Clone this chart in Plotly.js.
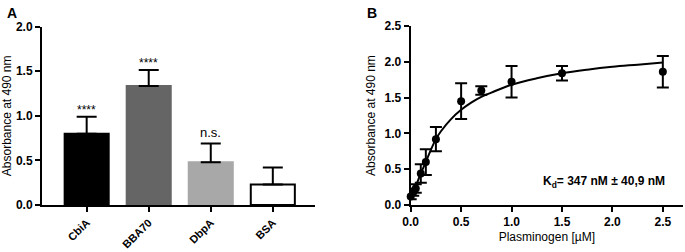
<!DOCTYPE html>
<html><head><meta charset="utf-8">
<script src="https://cdn.plot.ly/plotly-3.0.1.min.js"></script>
<style>html,body{margin:0;padding:0;background:#fff}#c{width:685px;height:252px}</style>
</head><body><div id="c"></div>
<script>
// Panel A
const categories = ['CbiA', 'BBA70', 'DbpA', 'BSA'];
const barValues = [0.80, 1.335, 0.48, 0.23];
const barErrors = [0.19, 0.18, 0.21, 0.19];
const barColors = ['#000000', '#656565', '#a8a8a8', '#ffffff'];
const barEdge = ['#000000', '#656565', '#a8a8a8', '#000000'];
const sigLabels = ['****', '****', 'n.s.', ''];
// Panel B
const plgConc = [0, 0.025, 0.05, 0.1, 0.15, 0.25, 0.5, 0.7, 1.0, 1.5, 2.5];
const plgAbs = [0.12, 0.18, 0.23, 0.44, 0.60, 0.92, 1.45, 1.60, 1.72, 1.84, 1.86];
const plgErr = [0.04, 0.05, 0.06, 0.13, 0.18, 0.17, 0.25, 0.06, 0.22, 0.10, 0.22];
const fitX = [0, 0.025, 0.05, 0.1, 0.15, 0.2, 0.25, 0.3, 0.4, 0.5, 0.6, 0.7, 0.8, 1.0, 1.25, 1.5, 1.75, 2.0, 2.25, 2.5];
const fitY = [0.10, 0.17, 0.26, 0.44, 0.60, 0.77, 0.92, 1.03, 1.20, 1.33, 1.43, 1.51, 1.57, 1.68, 1.77, 1.84, 1.89, 1.93, 1.96, 1.99];
const yTickVals = [0, 0.5, 1.0, 1.5, 2.0, 2.5];
const yTickText = ['0.0', '0.5', '1.0', '1.5', '2.0', '2.5'];
const xTickValsB = [0, 0.5, 1.0, 1.5, 2.0, 2.5];
const xTickTextB = ['0.0', '0.5', '1.0', '1.5', '2.0', '2.5'];
const yTitle = 'Absorbance at 490 nm';
const xTitleB = 'Plasminogen [µM]';
const kdText = 'K<sub>d</sub>= 347 nM ± 40,9 nM';

const FONT = 'Arial, "Liberation Sans", sans-serif';
const tickFont = {family: FONT, size: 12, color: '#000', weight: 'bold'};
const titleFont = {family: FONT, size: 12, color: '#000'};

const traces = [
  {
    type: 'bar', x: categories, y: barValues, xaxis: 'x', yaxis: 'y',
    width: 0.71,
    marker: {color: barColors, line: {color: barEdge, width: 2}},
    error_y: {type: 'data', symmetric: false, array: barErrors, arrayminus: [0,0,0,0],
              color: '#000', thickness: 2, width: 10},
    hoverinfo: 'none', showlegend: false
  },
  {
    type: 'scatter', mode: 'lines', x: fitX, y: fitY, xaxis: 'x2', yaxis: 'y2',
    line: {color: '#000', width: 2, shape: 'spline'}, showlegend: false, hoverinfo: 'none'
  },
  {
    type: 'scatter', mode: 'markers', x: plgConc, y: plgAbs, xaxis: 'x2', yaxis: 'y2',
    marker: {color: '#000', size: 8},
    error_y: {type: 'data', array: plgErr, color: '#000', thickness: 2, width: 6},
    cliponaxis: false, showlegend: false, hoverinfo: 'none'
  }
];

const annotations = [
  {xref: 'paper', yref: 'paper', x: 12/685, y: 1 - 3/252, xanchor: 'center', yanchor: 'top',
   text: '<b>A</b>', showarrow: false, font: {family: FONT, size: 14, color: '#000'}},
  {xref: 'paper', yref: 'paper', x: 372/685, y: 1 - 3/252, xanchor: 'center', yanchor: 'top',
   text: '<b>B</b>', showarrow: false, font: {family: FONT, size: 14, color: '#000'}},
  {xref: 'x2', yref: 'y2', x: 1.92, y: 0.32, xanchor: 'center', yanchor: 'middle',
   text: '<b>' + kdText + '</b>', showarrow: false, font: {family: FONT, size: 12, color: '#000'}}
];
categories.forEach((c, i) => {
  if (sigLabels[i]) {
    const isStar = sigLabels[i].indexOf('*') >= 0;
    annotations.push({
      xref: 'x', yref: 'y', x: c, y: barValues[i] + barErrors[i],
      xanchor: 'center', yanchor: 'bottom', yshift: isStar ? -2 : 1,
      text: sigLabels[i], showarrow: false,
      font: {family: FONT, size: isStar ? 12 : 13, color: '#000'}
    });
  }
});

const axCommon = {
  showline: true, linecolor: '#000', linewidth: 2, ticks: 'outside', ticklen: 5,
  tickwidth: 2, tickcolor: '#000', showgrid: false, zeroline: false, tickfont: tickFont,
  fixedrange: true
};

const layout = {
  width: 685, height: 252,
  margin: {l: 0, r: 0, t: 0, b: 0},
  paper_bgcolor: '#fff', plot_bgcolor: '#fff',
  bargap: 0.29,
  xaxis: Object.assign({}, axCommon, {
    domain: [42/685, 315/685], range: [-0.72, 3.68], type: 'category',
    tickangle: -45, anchor: 'y',
    tickfont: {family: FONT, size: 11, color: '#000', weight: 'bold'}
  }),
  yaxis: Object.assign({}, axCommon, {
    domain: [(252-205)/252, (252-26.7)/252], range: [0, 2.0],
    tickvals: yTickVals.slice(0, 5), ticktext: yTickText.slice(0, 5), anchor: 'x',
    title: {text: yTitle, font: titleFont, standoff: 6}
  }),
  xaxis2: Object.assign({}, axCommon, {
    domain: [410.7/685, 683/685], range: [0, 2.7], anchor: 'y2',
    tickvals: xTickValsB, ticktext: xTickTextB,
    title: {text: xTitleB, font: titleFont, standoff: 4}
  }),
  yaxis2: Object.assign({}, axCommon, {
    domain: [(252-205)/252, (252-26)/252], range: [0, 2.5], anchor: 'x2',
    tickvals: yTickVals, ticktext: yTickText,
    title: {text: yTitle, font: titleFont, standoff: 6}
  }),
  annotations: annotations
};

Plotly.newPlot('c', traces, layout, {displayModeBar: false, staticPlot: true});
</script></body></html>
